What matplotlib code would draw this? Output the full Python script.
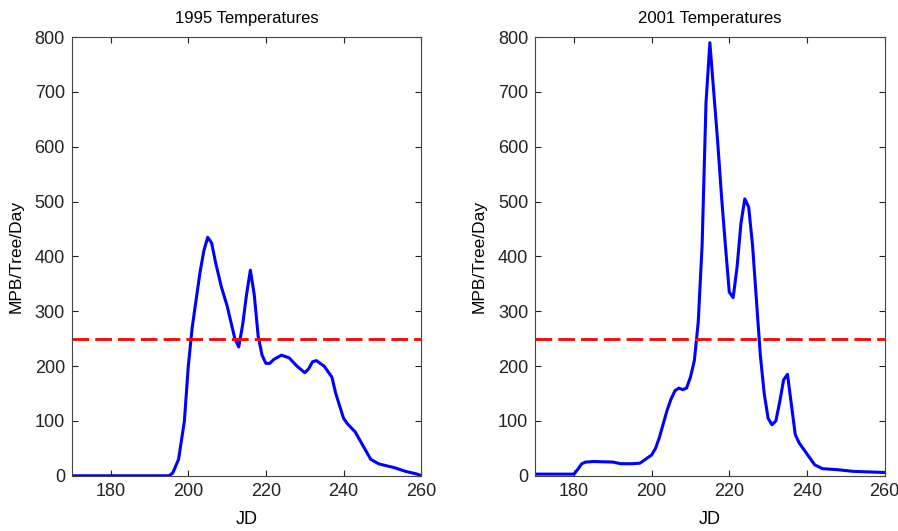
import numpy as np
import matplotlib.pyplot as plt

plt.rcParams['font.family'] = ['Liberation Sans Narrow', 'Liberation Sans', 'DejaVu Sans']

# 1995 attack curve (JD, MPB/Tree/Day)
jd_1995 = [170, 180, 190, 195, 196, 197.5, 199, 200, 201, 202, 203, 204, 205,
           206, 207, 208.5, 210, 211, 212, 213, 214, 215, 216, 217, 218, 219,
           220, 221, 222, 224, 226, 228, 230, 231, 232, 233, 235, 237, 238,
           240, 241, 243, 245, 247, 249, 250, 253, 256, 259, 260]
mpb_1995 = [0, 0, 0, 0, 5, 30, 100, 200, 270, 320, 370, 410, 435,
            425, 390, 345, 310, 280, 250, 235, 275, 330, 375, 330, 255, 220,
            205, 205, 212, 220, 215, 200, 188, 195, 208, 210, 200, 180, 150,
            105, 95, 80, 55, 30, 22, 20, 15, 8, 3, 0]

# 2001 attack curve
jd_2001 = [170, 175, 180, 181, 182, 183, 185, 190, 192, 195, 197, 198, 200,
           201, 202, 203, 204, 205, 206, 207, 208, 209, 210, 211, 212, 213,
           213.5, 214, 215, 216, 217, 218, 219, 220, 221, 222, 223, 224, 225,
           226, 227, 228, 229, 230, 231, 232, 233, 234, 235, 236, 237, 238,
           240, 242, 244, 248, 252, 256, 260]
mpb_2001 = [3, 3, 3, 12, 22, 25, 26, 25, 22, 22, 23, 28, 38,
            50, 70, 95, 120, 140, 155, 160, 157, 160, 180, 210, 280, 420,
            550, 680, 790, 700, 610, 510, 420, 335, 325, 380, 460, 505, 490,
            420, 320, 220, 150, 105, 93, 100, 135, 175, 185, 130, 75, 60,
            40, 20, 13, 11, 8, 7, 6]

threshold = 250
panels = [("1995 Temperatures", jd_1995, mpb_1995),
          ("2001 Temperatures", jd_2001, mpb_2001)]

fig = plt.figure(figsize=(8.98, 5.31), dpi=100)
lefts = [0.080, 0.596]
for left, (title, x, y) in zip(lefts, panels):
    ax = fig.add_axes([left, 0.104, 0.389, 0.826])
    ax.plot(x, y, color='#0000ff', lw=2.2, solid_joinstyle='round')
    ax.axhline(threshold, color='#ff0000', lw=2, dashes=(6, 2.2))
    ax.set_xlim(170, 260)
    ax.set_ylim(0, 800)
    ax.set_xticks([180, 200, 220, 240, 260])
    ax.set_yticks(np.arange(0, 801, 100))
    ax.tick_params(direction='in', top=True, right=True, labelsize=13,
                   length=4, pad=5, colors='#222222')
    for s in ax.spines.values():
        s.set_color('#444444')
    ax.set_title(title, fontsize=12, pad=10)
    ax.set_xlabel("JD", fontsize=13, labelpad=8)
    ax.set_ylabel("MPB/Tree/Day", fontsize=12.5, labelpad=8)

fig.savefig("out.png", dpi=100)
